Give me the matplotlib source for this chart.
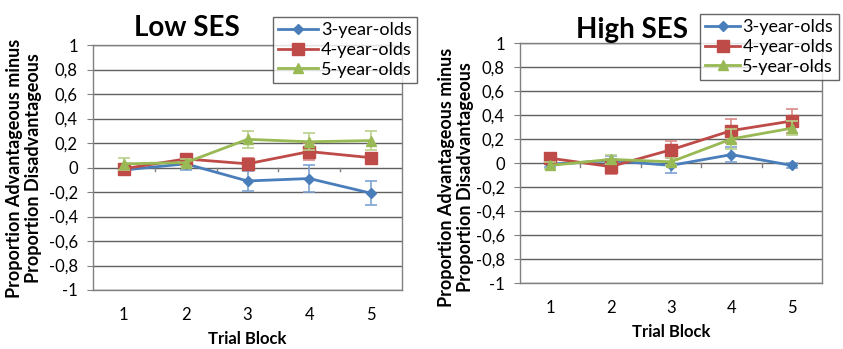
import matplotlib
matplotlib.use("Agg")
import matplotlib.pyplot as plt

plt.rcParams['font.family'] = ['Lato', 'DejaVu Sans']

blocks = [1, 2, 3, 4, 5]
series_names = ["3-year-olds", "4-year-olds", "5-year-olds"]

low_3 = [-0.02, 0.03, -0.11, -0.09, -0.21]
low_3_err = [0.02, 0.05, 0.08, 0.11, 0.10]
low_4 = [-0.01, 0.07, 0.03, 0.13, 0.08]
low_4_err = [0.02, 0.03, 0.05, 0.07, 0.04]
low_5 = [0.03, 0.04, 0.23, 0.21, 0.22]
low_5_err = [0.05, 0.03, 0.07, 0.07, 0.08]

high_3 = [-0.01, 0.02, -0.02, 0.07, -0.02]
high_3_err = [0.02, 0.04, 0.06, 0.06, 0.02]
high_4 = [0.04, -0.03, 0.11, 0.27, 0.35]
high_4_err = [0.03, 0.06, 0.07, 0.10, 0.10]
high_5 = [-0.02, 0.03, 0.01, 0.20, 0.29]
high_5_err = [0.03, 0.04, 0.03, 0.08, 0.06]

ytick_vals = [-1, -0.8, -0.6, -0.4, -0.2, 0, 0.2, 0.4, 0.6, 0.8, 1]
ytick_labels = ["-1", "-0,8", "-0,6", "-0,4", "-0,2", "0", "0,2", "0,4", "0,6", "0,8", "1"]

colors = ["#4A7EBB", "#BE4B48", "#98B954"]
err_colors = ["#7FA3D1", "#D98A88", "#B9D08A"]
markers = ["D", "s", "^"]
msizes = [5, 8, 7]

W, H = 843, 349
fig = plt.figure(figsize=(W / 100, H / 100), dpi=100)

def make_panel(rect, data, errs, title, title_xy, leg_xy, ylab_xy, hlen):
    ax = fig.add_axes(rect)
    ax.set_xlim(0.5, 5.5)
    ax.set_ylim(-1, 1)
    for yv in ytick_vals:
        ax.axhline(yv, color="#606060", lw=1.0, zorder=1)
    for s in ax.spines.values():
        s.set_color("#808080")
        s.set_linewidth(1.0)
    ax.set_yticks(ytick_vals)
    ax.set_yticklabels(ytick_labels, fontsize=12)
    ax.tick_params(axis="y", length=4, color="#808080", pad=7)
    ax.set_xticks(blocks)
    ax.set_xticklabels([str(b) for b in blocks], fontsize=12)
    ax.tick_params(axis="x", length=0, pad=12)
    for b in [1.5, 2.5, 3.5, 4.5]:
        ax.plot([b, b], [0, -0.03], color="#808080", lw=1.0, zorder=1.5)
    handles = []
    for i, (vals, e) in enumerate(zip(data, errs)):
        ax.errorbar(blocks, vals, yerr=e, fmt="none", ecolor=err_colors[i],
                    elinewidth=1.2, capsize=4, capthick=1.2, zorder=2 + i)
        ln, = ax.plot(blocks, vals, color=colors[i], lw=2, marker=markers[i],
                      ms=msizes[i], zorder=3 + i)
        handles.append(ln)
    ax.set_xlabel("Trial Block", fontsize=12, fontweight="bold", labelpad=6)
    fig.text(ylab_xy[0], ylab_xy[1],
             "Proportion Advantageous minus\nProportion Disadvantageous",
             fontsize=13, fontweight="bold", rotation=90, ha="center", va="center",
             linespacing=1.15)
    fig.text(title_xy[0], title_xy[1], title, fontsize=20, fontweight="bold",
             ha="center", va="center")
    leg = fig.legend(handles, series_names, loc="upper left", bbox_to_anchor=leg_xy,
                     fontsize=13, frameon=True, fancybox=False, borderaxespad=0,
                     handlelength=hlen, handletextpad=0.15, labelspacing=0.2,
                     borderpad=0.3)
    leg.get_frame().set_edgecolor("#404040")
    leg.get_frame().set_linewidth(1.0)
    return ax

make_panel([93 / W, 1 - 290 / H, 309 / W, 245 / H],
           [low_3, low_4, low_5], [low_3_err, low_4_err, low_5_err],
           "Low SES", (187 / W, 1 - 28 / H), (273 / W, 1 - 17 / H),
           (24 / W, 1 - 168 / H), 2.2)
make_panel([520 / W, 1 - 283 / H, 302 / W, 240 / H],
           [high_3, high_4, high_5], [high_3_err, high_4_err, high_5_err],
           "High SES", (632 / W, 1 - 30 / H), (700 / W, 1 - 14 / H),
           (456 / W, 1 - 177 / H), 1.9)

fig.savefig("out.png", dpi=100)
